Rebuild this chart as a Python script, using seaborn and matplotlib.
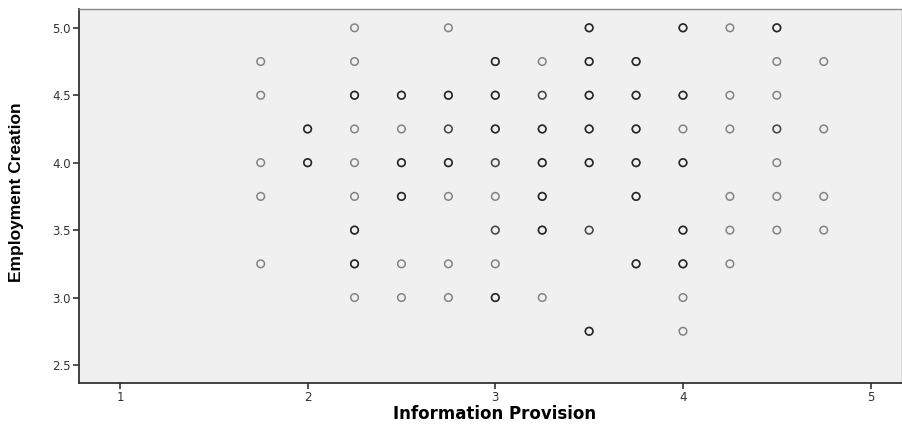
"""
SPSS-style scatter: Information Provision vs Employment Creation
"""
import numpy as np
import pandas as pd
import matplotlib
matplotlib.use('Agg')
import matplotlib.pyplot as plt
import seaborn as sns

sns.set_style("white")
plt.rcParams['font.family'] = ['DejaVu Sans']

# Each grid cell: (information provision, employment creation, number of overlapping cases)
info_provision = [
    2.25, 2.75, 3.5, 4.0, 4.25, 4.5,
    1.75, 2.25, 3.0, 3.25, 3.5, 3.75, 4.5, 4.75,
    1.75, 2.25, 2.5, 2.75, 3.0, 3.25, 3.5, 3.75, 4.0, 4.25, 4.5,
    2.0, 2.25, 2.5, 2.75, 3.0, 3.25, 3.5, 3.75, 4.0, 4.25, 4.5, 4.75,
    1.75, 2.0, 2.25, 2.5, 2.75, 3.0, 3.25, 3.5, 3.75, 4.0, 4.5,
    1.75, 2.25, 2.5, 2.75, 3.0, 3.25, 3.75, 4.25, 4.5, 4.75,
    2.25, 3.0, 3.25, 3.5, 4.0, 4.25, 4.5, 4.75,
    1.75, 2.25, 2.5, 2.75, 3.0, 3.75, 4.0, 4.25,
    2.25, 2.5, 2.75, 3.0, 3.25, 4.0,
    3.5, 4.0,
]
employment_creation = (
    [5.0] * 6 + [4.75] * 8 + [4.5] * 11 + [4.25] * 12 + [4.0] * 11
    + [3.75] * 10 + [3.5] * 8 + [3.25] * 8 + [3.0] * 6 + [2.75] * 2
)
case_count = [
    1, 1, 3, 3, 1, 3,
    1, 1, 3, 1, 3, 3, 1, 1,
    1, 3, 3, 3, 3, 2, 3, 3, 3, 1, 1,
    3, 1, 1, 2, 3, 3, 3, 3, 1, 1, 2, 1,
    1, 3, 1, 3, 3, 2, 3, 3, 3, 3, 1,
    1, 1, 3, 1, 1, 3, 3, 1, 1, 1,
    3, 2, 3, 2, 3, 1, 1, 1,
    1, 3, 1, 1, 1, 3, 3, 1,
    1, 1, 1, 3, 1, 1,
    3, 1,
]

df = pd.DataFrame({
    'Information Provision': np.repeat(info_provision, case_count),
    'Employment Creation': np.repeat(employment_creation, case_count),
})

fig = plt.figure(figsize=(9.02, 4.25), dpi=100)
ax = fig.add_axes([0.0876, 0.099, 0.912, 0.880])
ax.set_facecolor('#f0f0f0')

sns.scatterplot(data=df, x='Information Provision', y='Employment Creation',
                ax=ax, marker='o', s=30, facecolor='none',
                edgecolor='black', linewidth=1.1, alpha=0.45)

ax.set_xlim(0.782, 5.165)
ax.set_ylim(2.367, 5.14)
ax.set_xticks([1, 2, 3, 4, 5])
ax.set_yticks([2.5, 3.0, 3.5, 4.0, 4.5, 5.0])
ax.set_yticklabels(['2.5', '3.0', '3.5', '4.0', '4.5', '5.0'])
ax.tick_params(axis='both', direction='out', length=4, width=1.2,
               color='#333333', labelsize=8.5, labelcolor='#333333',
               bottom=True, left=True)
ax.tick_params(axis='y', pad=2)
ax.tick_params(axis='x', pad=2)

for side in ['left', 'bottom']:
    ax.spines[side].set_color('#333333')
    ax.spines[side].set_linewidth(1.3)
for side in ['top', 'right']:
    ax.spines[side].set_color('#888888')
    ax.spines[side].set_linewidth(1.0)

ax.set_xlabel('Information Provision', fontsize=12, fontweight='bold',
              color='black')
ax.set_ylabel('Employment Creation', fontsize=12.5, fontweight='bold',
              color='black', family=['Liberation Sans', 'DejaVu Sans'])
ax.xaxis.set_label_coords(0.5055, -0.058)
ax.yaxis.set_label_coords(-0.067, 0.51)

plt.savefig('out.png', dpi=100)
plt.close()
